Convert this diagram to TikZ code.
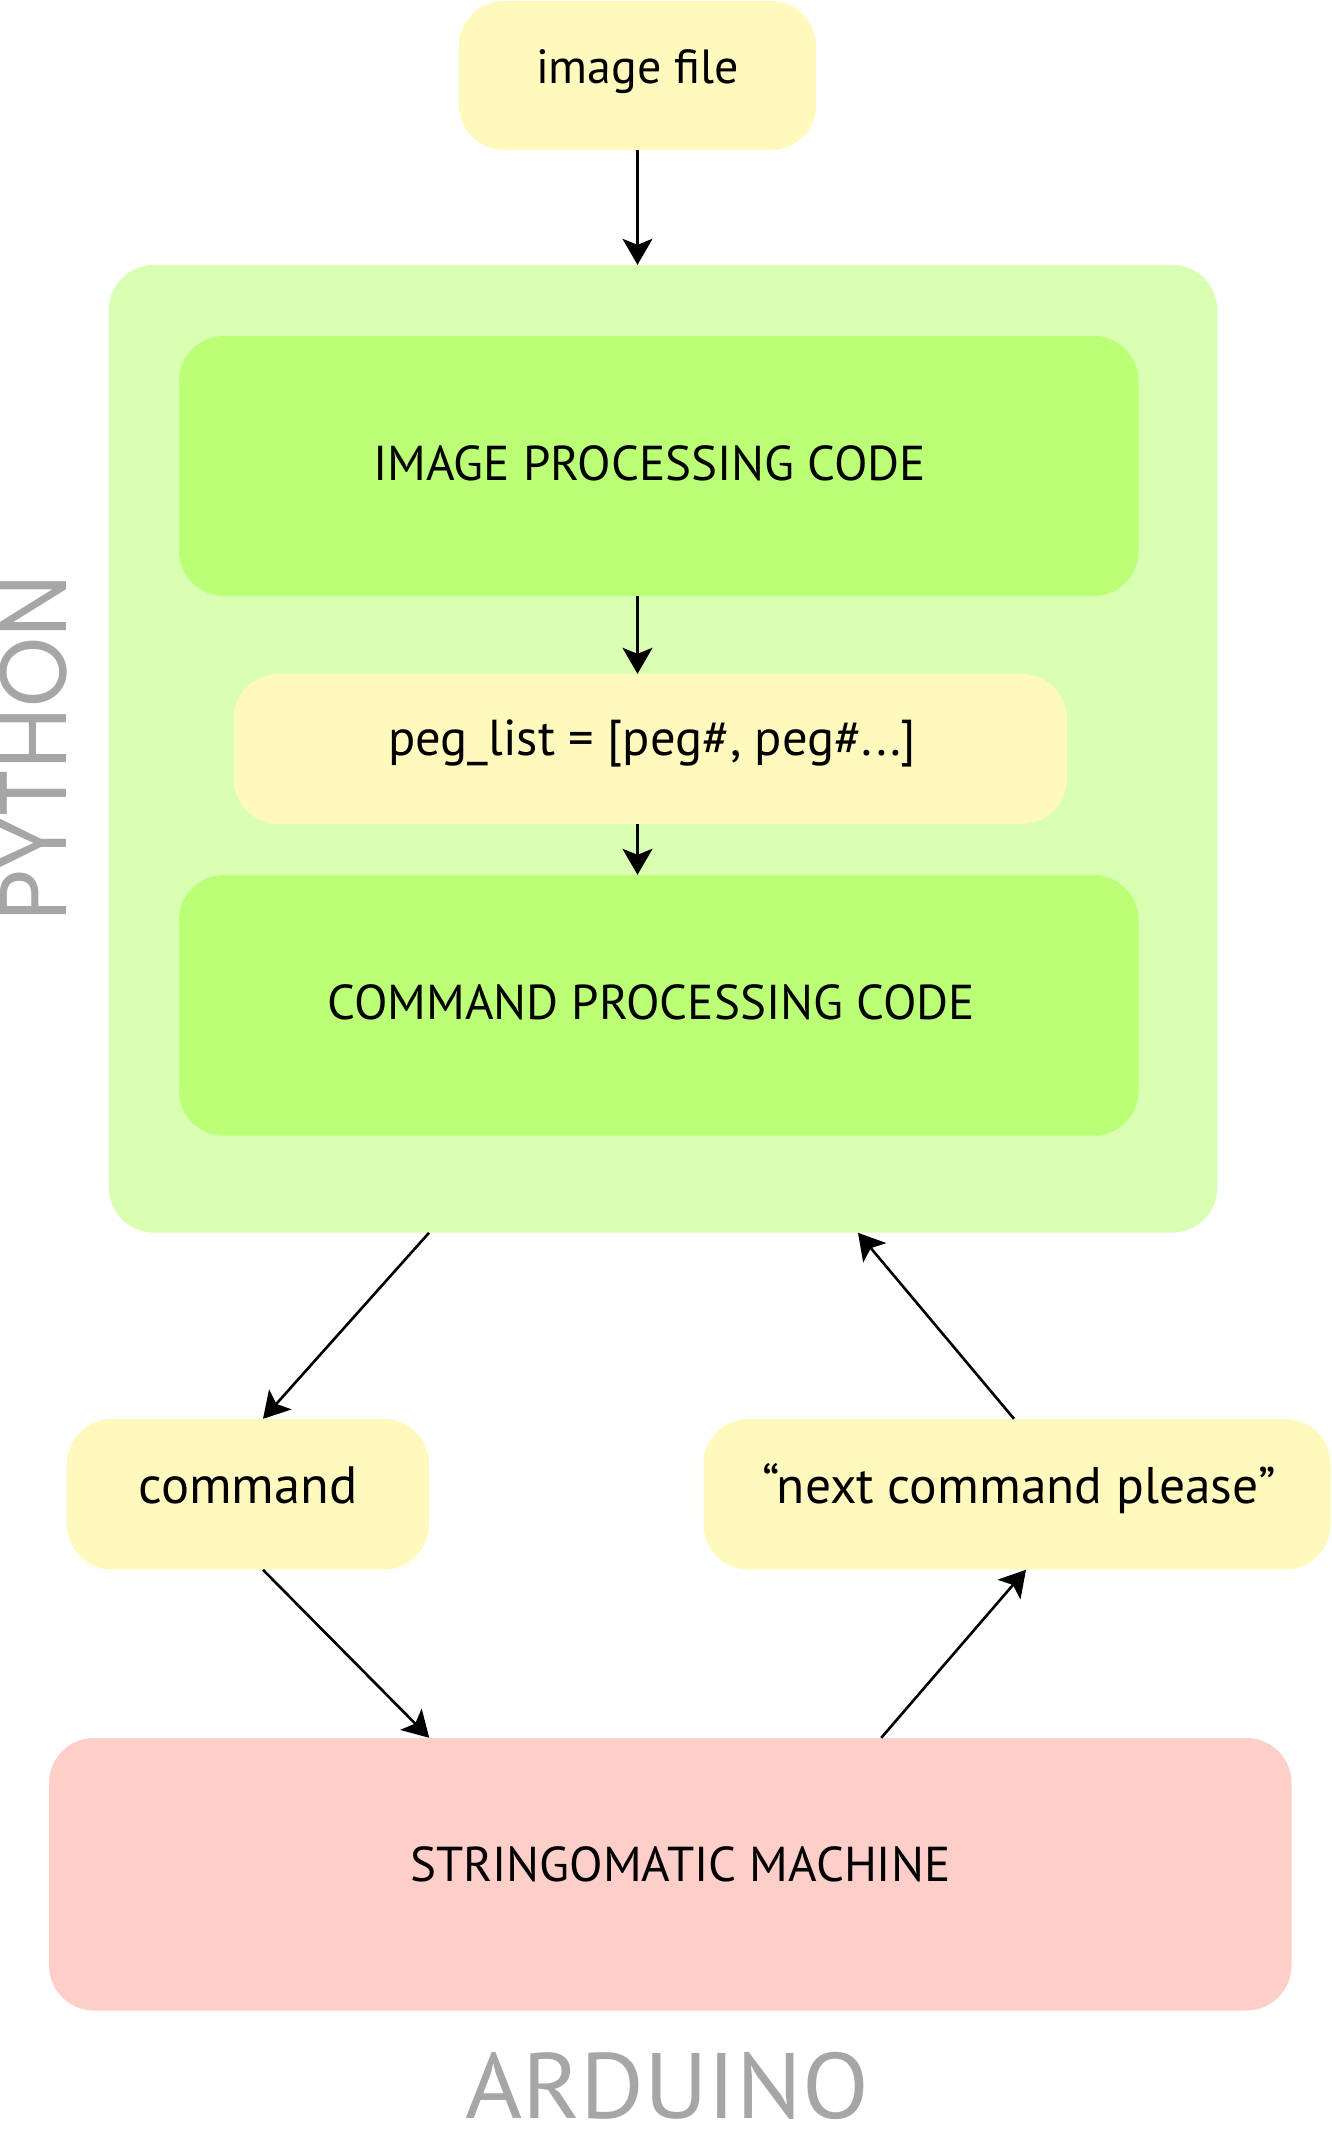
\documentclass[tikz,border=0pt]{standalone}
\usepackage{fontspec}
\setmainfont{PT Sans}
\newfontfamily\geofont{Poppins}
\usetikzlibrary{arrows.meta,calc}
\definecolor{boxyellow}{HTML}{FFF9BD}
\definecolor{pygreen}{HTML}{D8FFB2}
\definecolor{codegreen}{HTML}{BBFF77}
\definecolor{machpink}{HTML}{FECFC8}
\definecolor{labelgray}{HTML}{A6A6A6}
\newcommand\placetext[3]{\raisebox{#2}[0pt][0pt]{\makebox[0pt][c]{\hspace{#1}\hspace{#1}#3}}}
\tikzset{
  box/.style={rounded corners=45pt, inner sep=0pt, text=black},
  fs/.style={font=\fontsize{#1}{#1}\selectfont},
  flow/.style={draw=black, line width=2.6pt, -{Stealth[length=26pt,width=30pt,inset=6pt]}},
}
\begin{document}
\begin{tikzpicture}[x=1pt,y=-1pt]
\useasboundingbox (0,0) rectangle (1332,2142);
\node[box, fs=48, fill=boxyellow, minimum width=357pt, minimum height=149pt] (imgfile) at (637.5,75.5) {\placetext{0pt}{-7.8pt}{image file}};
\node[box, fill=pygreen, minimum width=1108.5pt, minimum height=967.6pt] (python) at (663,748.8) {};
\node[box, fs=49, fill=codegreen, minimum width=959.5pt, minimum height=260pt] (ipc) at (658.75,466) {\placetext{-9pt}{-14.7pt}{IMAGE PROCESSING CODE}};
\node[box, fs=50.5, fill=boxyellow, minimum width=833.4pt, minimum height=150pt] (peg) at (650.3,749) {\placetext{2pt}{-6pt}{peg\_list = [peg\#, peg\#...]}};
\node[box, fs=49, fill=codegreen, minimum width=959.5pt, minimum height=260.7pt] (cpc) at (658.75,1005.35) {\placetext{-7.5pt}{-14pt}{COMMAND PROCESSING CODE}};
\node[box, fs=52.5, fill=boxyellow, minimum width=362pt, minimum height=150.6pt] (cmd) at (248,1494.3) {\placetext{0pt}{-9pt}{command}};
\node[box, fs=51.5, fill=boxyellow, minimum width=627pt, minimum height=150.6pt] (next) at (1017,1494.3) {\placetext{2pt}{-9pt}{“next command please”}};
\node[box, fs=49, fill=machpink, minimum width=1242.5pt, minimum height=272.5pt] (machine) at (670.25,1874.25) {\placetext{10pt}{-6.75pt}{STRINGOMATIC MACHINE}};
\node[text=labelgray, fs=93, inner sep=0pt] (arduino) at (667,2086) {\scalebox{1.05}[1]{ARDUINO}};
\node[text=labelgray, font=\geofont\fontsize{95}{100}\selectfont, inner sep=0pt, rotate=90] (pylabel) at (33.5,748) {\scalebox{0.94}[1]{PYTHON}};
\draw[flow] (imgfile.south) -- (imgfile.south |- python.north);
\draw[flow] (imgfile.south |- ipc.south) -- (imgfile.south |- peg.north);
\draw[flow] (imgfile.south |- peg.south) -- (imgfile.south |- cpc.north);
\draw[flow] ([xshift=-234pt]python.south) -- ([xshift=15pt]cmd.north);
\draw[flow] ([xshift=-3pt]next.north) -- ([xshift=195pt]python.south);
\draw[flow] ([xshift=15pt]cmd.south) -- ([xshift=-241pt]machine.north);
\draw[flow] ([xshift=211pt]machine.north) -- ([xshift=9pt]next.south);
\end{tikzpicture}
\end{document}
